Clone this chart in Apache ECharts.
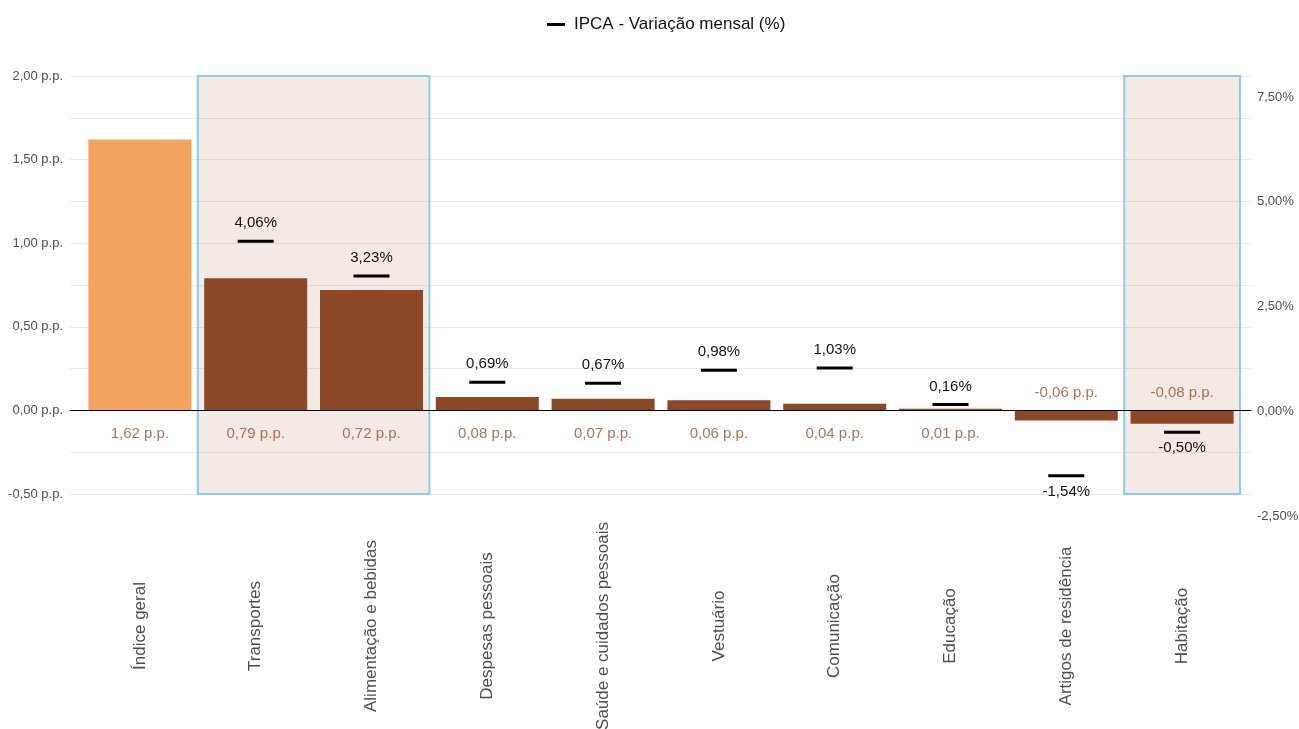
<!DOCTYPE html>
<html>
<head>
<meta charset="utf-8">
<script src="https://cdn.jsdelivr.net/npm/echarts@6/dist/echarts.min.js"></script>
<style>html,body{margin:0;padding:0;background:#fff}#chart{width:1299px;height:729px}</style>
</head>
<body>
<div id="chart"></div>
<script>
// ---- data ----
const categories = ['Índice geral','Transportes','Alimentação e bebidas','Despesas pessoais','Saúde e cuidados pessoais','Vestuário','Comunicação','Educação','Artigos de residência','Habitação'];
const contribution = [1.62, 0.79, 0.72, 0.08, 0.07, 0.06, 0.04, 0.01, -0.06, -0.08];   // p.p.
const ipcaMonthly = [null, 4.06, 3.23, 0.69, 0.67, 0.98, 1.03, 0.16, -1.54, -0.50];   // %
const highlightGroups = [['Transportes','Alimentação e bebidas'], ['Habitação','Habitação']];
const totalCategory = 'Índice geral';
const leftTicks = { min: -0.5, max: 2.0, step: 0.5, grid: 0.25 };
const rightTicks = { min: -2.5, max: 7.5, step: 2.5 };
const seriesName = 'IPCA - Variação mensal (%)';

// ---- helpers ----
const FONT = 'Liberation Sans, Arial, sans-serif';
const fmt = v => v.toFixed(2).replace('.', ',');
const BROWN = '#8B4726', ORANGE = '#F4A460';

const chart = echarts.init(document.getElementById('chart'));

const barData = contribution.map((v, i) => ({
  value: v,
  itemStyle: { color: categories[i] === totalCategory ? ORANGE : BROWN }
}));

const barLabelData = contribution.map((v, i) => ({
  value: [i, 0],
  label: v >= 0 ? { position: 'bottom', distance: 16 } : { position: 'top', distance: 10 }
}));

const markerData = ipcaMonthly.map((v, i) => v === null ? null : ({
  value: [i, v],
  label: v >= 0 ? { position: 'top', distance: 9 } : { position: 'bottom', distance: 7 }
})).filter(d => d !== null);

const groupData = highlightGroups.map(g => [categories.indexOf(g[0]), categories.indexOf(g[1])]);

const option = {
  animation: false,
  backgroundColor: '#fff',
  textStyle: { fontFamily: FONT },
  legend: {
    data: [{ name: seriesName, icon: 'rect' }],
    left: 542, top: 11,
    itemWidth: 18, itemHeight: 3,
    textStyle: { fontSize: 17, color: '#111', fontFamily: FONT, padding: [0, 0, 0, 4] }
  },
  grid: [
    { left: 82, right: 59, top: 76, height: 418, outerBoundsMode: 'none', containLabel: false },   // bars
    { left: 70, right: 48, top: 76, height: 418, outerBoundsMode: 'none', containLabel: false },   // gridlines + zero line
    { left: 82, right: 59, top: 97, height: 419, outerBoundsMode: 'none', containLabel: false }    // right axis (IPCA %)
  ],
  xAxis: [
    {
      gridIndex: 0, type: 'category', data: categories,
      axisLine: { show: false, onZero: false }, axisTick: { show: false },
      axisLabel: {
        interval: 0, rotate: 90, margin: 132, align: 'center', verticalAlign: 'middle',
        fontSize: 17, color: '#4D4D4D', fontFamily: FONT
      }
    },
    {
      gridIndex: 1, type: 'value', min: 0, max: 1, z: 3,
      axisLine: { show: true, onZero: true, lineStyle: { color: '#000', width: 1 } },
      axisTick: { show: false }, axisLabel: { show: false }, splitLine: { show: false }
    },
    {
      gridIndex: 2, type: 'category', data: categories, show: false
    }
  ],
  yAxis: [
    {
      gridIndex: 0, type: 'value', min: leftTicks.min, max: leftTicks.max, interval: leftTicks.step,
      axisLine: { show: false }, axisTick: { show: false }, splitLine: { show: false },
      axisLabel: { margin: 19, fontSize: 13, color: '#4D4D4D', fontFamily: FONT, formatter: v => fmt(v) + ' p.p.' }
    },
    {
      gridIndex: 1, type: 'value', min: leftTicks.min, max: leftTicks.max, interval: leftTicks.grid,
      axisLine: { show: false }, axisTick: { show: false }, axisLabel: { show: false },
      splitLine: { show: true, lineStyle: { color: '#EBEBEB', width: 1 } }
    },
    {
      gridIndex: 2, type: 'value', position: 'right', min: rightTicks.min, max: rightTicks.max, interval: rightTicks.step,
      axisLine: { show: false }, axisTick: { show: false }, splitLine: { show: false },
      axisLabel: { margin: 17, fontSize: 13, color: '#4D4D4D', fontFamily: FONT, formatter: v => fmt(v) + '%' }
    }
  ],
  series: [
    {
      type: 'custom', xAxisIndex: 0, yAxisIndex: 0, z: 1, silent: true,
      data: groupData,
      renderItem: (params, api) => {
        const a = api.coord([api.value(0), leftTicks.max]);
        const b = api.coord([api.value(1), leftTicks.min]);
        const bw = api.size([1, 0])[0];
        return {
          type: 'rect',
          shape: { x: a[0] - bw / 2, y: a[1], width: b[0] - a[0] + bw, height: b[1] - a[1] },
          style: { fill: 'rgba(160,82,45,0.12)', stroke: '#87CEEB', lineWidth: 2 }
        };
      }
    },
    {
      type: 'bar', name: 'Contribuição', xAxisIndex: 0, yAxisIndex: 0, z: 2,
      barWidth: 103, data: barData
    },
    {
      type: 'scatter', name: 'labels', xAxisIndex: 0, yAxisIndex: 0, z: 4,
      symbolSize: 0, data: barLabelData, silent: true,
      label: {
        show: true, fontSize: 15, color: '#94502F', fontFamily: FONT,
        formatter: p => fmt(contribution[p.dataIndex]) + ' p.p.'
      }
    },
    {
      type: 'scatter', name: seriesName, xAxisIndex: 2, yAxisIndex: 2, z: 5,
      symbol: 'rect', symbolSize: [36, 3], itemStyle: { color: '#000', opacity: 1 },
      data: markerData,
      label: {
        show: true, fontSize: 15, color: '#111', fontFamily: FONT,
        formatter: p => fmt(p.value[1]) + '%'
      }
    }
  ]
};
chart.setOption(option);
</script>
</body>
</html>
